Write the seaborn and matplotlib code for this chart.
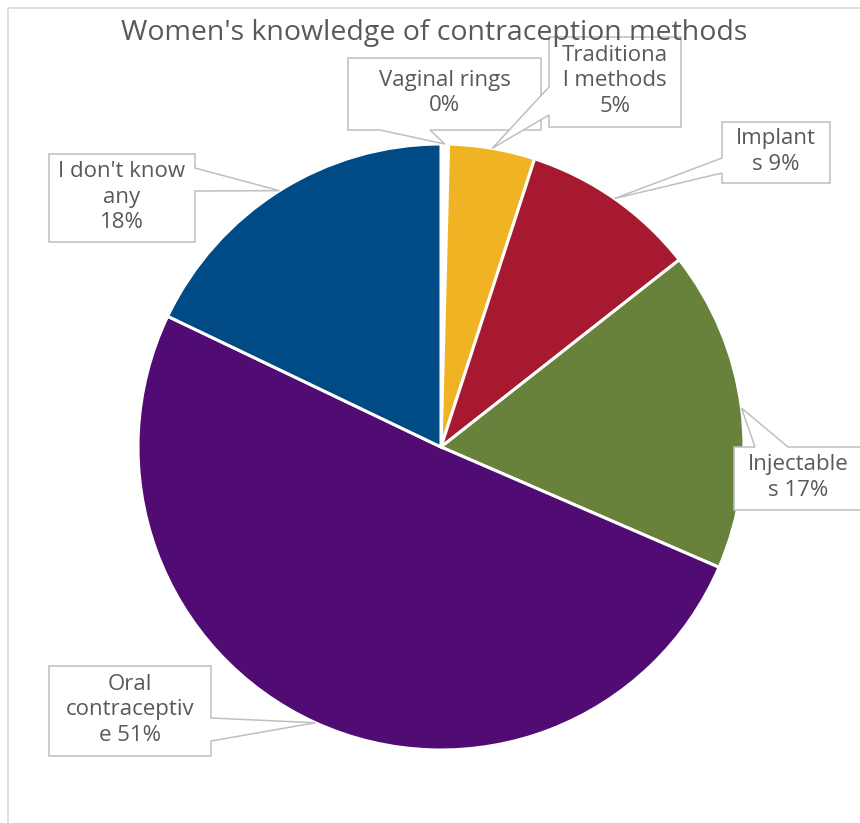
import numpy as np
import matplotlib
matplotlib.use("Agg")
import matplotlib.pyplot as plt
from matplotlib.patches import Polygon
import seaborn as sns

categories = ["Vaginal rings", "Traditional methods", "Implants",
              "Injectables", "Oral contraceptive", "I don't know any"]
shares = [0.4, 4.6, 9.4, 17.1, 50.6, 17.9]
label_templates = ["Vaginal rings\n{}%", "Traditiona\nl methods\n{}%", "Implant\ns {}%",
                   "Injectable\ns {}%", "Oral\ncontraceptiv\ne {}%", "I don't know\nany\n{}%"]
colors = ["#FFFFFF", "#F0B323", "#A6192E", "#68813B", "#500C72", "#004A86"]

sns.set_theme(style="white")
plt.rcParams["font.family"] = ["Open Sans", "DejaVu Sans"]

W, H = 860, 823
CX, CY, R = 441, 447, 303
TEXT = "#595959"

fig = plt.figure(figsize=(W / 100, H / 100), dpi=100)
ax = fig.add_axes([0, 0, 1, 1])

wedges, _ = ax.pie(shares, colors=colors, startangle=90, counterclock=False,
                   radius=1, wedgeprops=dict(edgecolor="white", linewidth=2.2))

ax.set_xlim(-CX / R, (W - CX) / R)
ax.set_ylim(-(H - CY) / R, CY / R)
ax.set_aspect("equal")
ax.axis("off")


def to_data(x, y):
    return ((x - CX) / R, (CY - y) / R)


def to_px(x, y):
    return (CX + R * x, CY - R * y)


# callout boxes in pixels: (x0, y0, x1, y1), side of pointer, pointer base
boxes = [
    ((348, 58, 541, 130), "bottom", (380, 430)),
    ((549, 37, 681, 127), "left", (87, 115)),
    ((722, 122, 830, 183), "left", (158, 173)),
    ((734, 447, 862, 510), "top", (755, 788)),
    ((49, 666, 211, 756), "right", (718, 741)),
    ((49, 154, 195, 242), "right", (168, 191)),
]

total = sum(shares)
for w, tpl, (box, side, base), v in zip(wedges, label_templates, boxes, shares):
    mid = np.deg2rad((w.theta1 + w.theta2) / 2)
    apex = to_px(np.cos(mid), np.sin(mid))
    x0, y0, x1, y1 = box
    b0, b1 = base
    pts = [(x0, y0)]
    if side == "top":
        pts += [(b0, y0), apex, (b1, y0)]
    pts += [(x1, y0)]
    if side == "right":
        pts += [(x1, b0), apex, (x1, b1)]
    pts += [(x1, y1)]
    if side == "bottom":
        pts += [(b1, y1), apex, (b0, y1)]
    pts += [(x0, y1)]
    if side == "left":
        pts += [(x0, b1), apex, (x0, b0)]
    poly = Polygon([to_data(*p) for p in pts], closed=True, facecolor="white",
                   edgecolor="#BFBFBF", linewidth=1.1, zorder=5, clip_on=False)
    ax.add_patch(poly)
    pct = int(v / total * 100 + 0.5)
    tx, ty = to_data((x0 + x1) / 2, (y0 + y1) / 2 - 1)
    ax.text(tx, ty, tpl.format(pct), ha="center", va="center", fontsize=16,
            color=TEXT, linespacing=1.27, zorder=6)

# chart area border
fx, fy = zip(*[to_data(8, 830), to_data(8, 8), to_data(870, 8)])
ax.plot(fx, fy, color="#D9D9D9", linewidth=1.2, clip_on=False, zorder=1)

tx, ty = to_data(434, 33)
ax.text(tx, ty, "Women's knowledge of contraception methods", ha="center",
        va="center", fontsize=20.5, color=TEXT, zorder=7)

fig.savefig("out.png", dpi=100)
